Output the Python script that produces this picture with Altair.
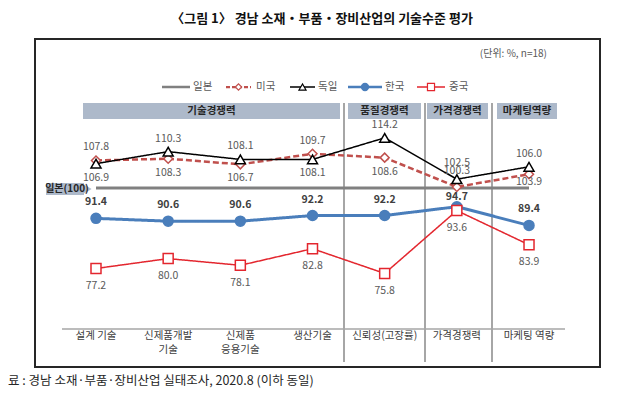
import altair as alt
import pandas as pd

# ---------------- data ----------------
categories = ["설계 기술", "신제품개발\n기술", "신제품\n응용기술", "생산기술",
              "신뢰성(고장률)", "가격경쟁력", "마케팅 역량"]
japan = [100, 100, 100, 100, 100, 100, 100]
usa = [107.8, 108.3, 106.7, 109.7, 108.6, 100.3, 103.9]
germany = [106.9, 110.3, 108.1, 108.1, 114.2, 102.5, 106.0]
korea = [91.4, 90.6, 90.6, 92.2, 92.2, 94.7, 89.4]
china = [77.2, 80.0, 78.1, 82.8, 75.8, 93.6, 83.9]
series_names = ["일본", "미국", "독일", "한국", "중국"]
groups = ["기술경쟁력", "품질경쟁력", "가격경쟁력", "마케팅역량"]

title_text = "〈그림 1〉 경남 소재・부품・장비산업의 기술수준 평가"
unit_text = "(단위: %, n=18)"
base_label = "일본(100)"
source_text = "료 : 경남 소재·부품·장비산업 실태조사, 2020.8 (이하 동일)"

# ---------------- layout ----------------
W, H = 609, 382
XD = [-1.2193, 7.2191]
YD = [42.776, 150.99]
FONT = "Noto Sans CJK KR"

def y_px(v):
    return H * (YD[1] - v) / (YD[1] - YD[0])

def xs():
    return alt.X("idx:Q", scale=alt.Scale(domain=XD, nice=False, zero=False), axis=None)

def ys():
    return alt.Y("val:Q", scale=alt.Scale(domain=YD, nice=False, zero=False), axis=None)

def px(field):
    return alt.X(field, type="quantitative", scale=alt.Scale(domain=[0, W], nice=False, zero=False), axis=None)

one = pd.DataFrame({"k": [0]})
idx = list(range(len(categories)))

styles = {
    "일본": dict(color="#808080", width=3, dash=[1, 0], shape=None, size=0, filled=False),
    "미국": dict(color="#c0504d", width=2.5, dash=[6, 3], shape="diamond", size=80, filled=False),
    "독일": dict(color="#000000", width=1.5, dash=[1, 0], shape="triangle-up", size=100, filled=False),
    "한국": dict(color="#4a7ebb", width=3, dash=[1, 0], shape="circle", size=100, filled=True),
    "중국": dict(color="#e3262e", width=1.5, dash=[1, 0], shape="square", size=100, filled=False),
}
values = {"일본": japan, "미국": usa, "독일": germany, "한국": korea, "중국": china}

layers = []

# outer box
layers.append(alt.Chart(one).mark_rect(fillOpacity=0, stroke="#262626", strokeWidth=2).encode(
    x=alt.value(27), x2=alt.value(592), y=alt.value(31), y2=alt.value(359)))

# title
layers.append(alt.Chart(one).mark_text(text=title_text, font=FONT, fontSize=13, fontWeight="bold",
                                       align="center", baseline="middle", color="#111111").encode(
    x=alt.value(314), y=alt.value(11)))

# unit
layers.append(alt.Chart(one).mark_text(text=unit_text, font=FONT, fontSize=10, align="right",
                                       baseline="middle", color="#595959").encode(
    x=alt.value(539), y=alt.value(46)))

# legend
leg_x1 = [154, 218, 282, 340, 409]
leg_x2 = [182, 243, 307, 374, 437]
leg_tx = [185, 248, 310, 377, 441]
for i, name in enumerate(series_names):
    st = styles[name]
    d = pd.DataFrame({"x1": [leg_x1[i]], "x2": [leg_x2[i]], "xm": [(leg_x1[i] + leg_x2[i]) / 2],
                      "tx": [leg_tx[i]], "t": [name]})
    layers.append(alt.Chart(d).mark_rule(color=st["color"], strokeWidth=st["width"] * 0.9,
                                         strokeDash=[4, 2] if name == "미국" else [1, 0]).encode(
        x=px("x1"), x2="x2", y=alt.value(79)))
    if st["shape"]:
        layers.append(alt.Chart(d).mark_point(shape=st["shape"], filled=True,
                                              fill=st["color"] if st["filled"] else "white",
                                              stroke=st["color"], strokeWidth=1.2, size=st["size"] * 0.5,
                                              opacity=1).encode(x=px("xm"), y=alt.value(79)))
    layers.append(alt.Chart(d).mark_text(font=FONT, fontSize=10.5, align="left", baseline="middle",
                                         color="#595959").encode(x=px("tx"), y=alt.value(79), text="t:N"))

# group header bars + Japan base label box (same rect layer)
hx1 = [75, 340, 419, 489, 38]
hx2 = [332, 413, 480, 549, 76]
hy1 = [95, 95, 95, 95, 175]
hy2 = [111, 111, 111, 111, 187]
hd = pd.DataFrame({"x1": hx1, "x2": hx2, "y1": hy1, "y2": hy2})
layers.append(alt.Chart(hd).mark_rect(fill="#adb9ca").encode(
    x=px("x1"), x2="x2",
    y=alt.Y("y1:Q", scale=alt.Scale(domain=[0, H], nice=False, zero=False, reverse=True), axis=None),
    y2="y2"))
ht = pd.DataFrame({"xm": [(a + b) / 2 for a, b in zip(hx1[:4], hx2[:4])], "t": groups})
layers.append(alt.Chart(ht).mark_text(font=FONT, fontSize=10.5, fontWeight="bold", color="#262626",
                                      baseline="middle").encode(x=px("xm"), y=alt.value(103), text="t:N"))

# separators
sd = pd.DataFrame({"x": [336, 417, 484]})
layers.append(alt.Chart(sd).mark_rule(color="#a6a6a6", strokeWidth=2).encode(
    x=px("x"), y=alt.value(95), y2=alt.value(354)))

# bottom axis line
layers.append(alt.Chart(one).mark_rule(color="#a6a6a6", strokeWidth=1.5).encode(
    x=alt.value(54), x2=alt.value(557), y=alt.value(321)))

# category labels
cd = pd.DataFrame({"idx": idx, "cat": categories})
layers.append(alt.Chart(cd).mark_text(font=FONT, fontSize=10.5, color="#404040", baseline="top",
                                      lineBreak="\n", lineHeight=14).encode(
    x=xs(), y=alt.value(323), text="cat:N"))

def sdf(name):
    return pd.DataFrame({"idx": idx, "val": values[name]})

def markers(name):
    st = styles[name]
    return alt.Chart(sdf(name)).mark_point(shape=st["shape"], filled=True,
                                           fill=st["color"] if st["filled"] else "white",
                                           stroke=st["color"], strokeWidth=1.5, size=st["size"],
                                           opacity=1).encode(x=xs(), y=ys())

def line(name):
    st = styles[name]
    return alt.Chart(sdf(name)).mark_line(color=st["color"], strokeWidth=st["width"],
                                          strokeDash=st["dash"]).encode(x=xs(), y=ys())

layers += [line("일본"), line("미국"), line("독일"), markers("미국"), markers("독일"),
           line("한국"), markers("한국"), line("중국"), markers("중국")]

# Japan base label arrow tip and text
layers.append(alt.Chart(one).mark_point(shape="triangle-right", size=144, filled=True, fill="#adb9ca",
                                        stroke="#adb9ca", strokeWidth=0.5, opacity=1).encode(
    x=alt.value(78), y=alt.value(181)))
layers.append(alt.Chart(one).mark_text(text=base_label, font=FONT, fontSize=10, fontWeight="bold",
                                       color="#262626", baseline="middle", align="center").encode(
    x=alt.value(59), y=alt.value(181)))

# value labels (offsets grouped into layers)
def label_layers(df, bold=False, color="#595959"):
    out = []
    for dy, grp in df.groupby("dy"):
        out.append(alt.Chart(grp[["idx", "val", "t"]].reset_index(drop=True)).mark_text(
            font=FONT, fontSize=10.5, fontWeight="bold" if bold else "normal", color=color,
            baseline="middle", dy=float(dy)).encode(x=xs(), y=ys(), text="t:N"))
    return out

y100 = y_px(100)
rows = []
for i in idx:
    g, u = germany[i], usa[i]
    hi_v, lo_v = max(g, u), min(g, u)
    if lo_v < 101:
        rows.append((i, hi_v, -16))
        rows.append((i, lo_v, -16))
    else:
        rows.append((i, hi_v, -13))
        dy = min(14, round((y100 - 6) - y_px(lo_v)))
        rows.append((i, lo_v, dy))
gu = pd.DataFrame(rows, columns=["idx", "val", "dy"])
gu["t"] = gu["val"].map(lambda v: f"{v:.1f}")
layers += label_layers(gu)

kd = pd.DataFrame({"idx": idx, "val": korea})
kd["dy"] = [-16 if i != 5 else -10 for i in idx]
kd["t"] = kd["val"].map(lambda v: f"{v:.1f}")
layers += label_layers(kd, bold=True, color="#404040")

chd = pd.DataFrame({"idx": idx, "val": china})
chd["dy"] = 17.5
chd["t"] = chd["val"].map(lambda v: f"{v:.1f}")
layers += label_layers(chd)

# source
layers.append(alt.Chart(one).mark_text(text=source_text, font=FONT, fontSize=12.5, align="left",
                                       baseline="middle", color="#262626").encode(
    x=alt.value(0), y=alt.value(373)))

chart = alt.layer(*layers).resolve_scale(x="independent", y="independent").properties(
    width=W, height=H, autosize=alt.AutoSizeParams(type="none"), padding=0
).configure_view(strokeWidth=0)

chart.save("out.html", embed_options={"renderer": "svg", "actions": False})
